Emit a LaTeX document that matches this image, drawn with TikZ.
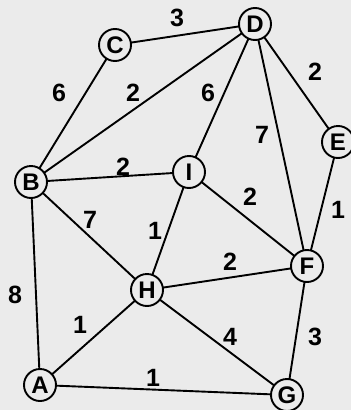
\documentclass[tikz,border=0pt]{standalone}
\usepackage{fontspec}
\setmainfont{Liberation Sans}

\begin{document}
\begin{tikzpicture}[x=1pt, y=-1pt, line width=1.9pt,
  vtx/.style={circle, draw, fill=bggray, minimum size=32pt, inner sep=0pt, font=\bfseries\fontsize{24}{24}\selectfont},
  wt/.style={font=\bfseries\fontsize{25}{25}\selectfont}]
  \definecolor{bggray}{RGB}{235,235,235}
  \fill[bggray] (0,0) rectangle (351,410);
  \useasboundingbox (0,0) rectangle (351,410);

  % vertices
  \coordinate (pA) at (40, 385);
  \coordinate (pB) at (31, 182);
  \coordinate (pC) at (115, 45);
  \coordinate (pD) at (255, 24);
  \coordinate (pE) at (338, 142);
  \coordinate (pF) at (307, 266);
  \coordinate (pG) at (287, 395);
  \coordinate (pH) at (147, 290);
  \coordinate (pI) at (189, 172);

  % edges
  \draw (pC) -- (pD);
  \draw (pC) -- (pB);
  \draw (pB) -- (pD);
  \draw (pD) -- (pI);
  \draw (pD) -- (pF);
  \draw (pD) -- (pE);
  \draw (pE) -- (pF);
  \draw (pB) -- (pI);
  \draw (pI) -- (pF);
  \draw (pI) -- (pH);
  \draw (pB) -- (pH);
  \draw (pB) -- (pA);
  \draw (pH) -- (pF);
  \draw (pA) -- (pH);
  \draw (pH) -- (pG);
  \draw (pF) -- (pG);
  \draw (pA) -- (pG);

  \foreach \v in {A,B,C,D,E,F,G,H,I}
    \node[vtx] (\v) at (p\v) {\v};

  % weights
  \node[wt] (wCD) at (177, 18) {3};
  \node[wt] (wBC) at (59, 93) {6};
  \node[wt] (wBD) at (133, 93) {2};
  \node[wt] (wDI) at (208, 93) {6};
  \node[wt] (wDF) at (262, 135) {7};
  \node[wt] (wDE) at (315, 72) {2};
  \node[wt] (wBI) at (123, 167) {2};
  \node[wt] (wIF) at (250, 197) {2};
  \node[wt] (wEF) at (338, 210) {1};
  \node[wt] (wBH) at (90, 220) {7};
  \node[wt] (wHI) at (155, 231) {1};
  \node[wt] (wHF) at (230, 262) {2};
  \node[wt] (wAB) at (15, 295) {8};
  \node[wt] (wAH) at (80, 325) {1};
  \node[wt] (wGH) at (230, 337) {4};
  \node[wt] (wFG) at (315, 337) {3};
  \node[wt] (wAG) at (153, 378) {1};
\end{tikzpicture}
\end{document}
